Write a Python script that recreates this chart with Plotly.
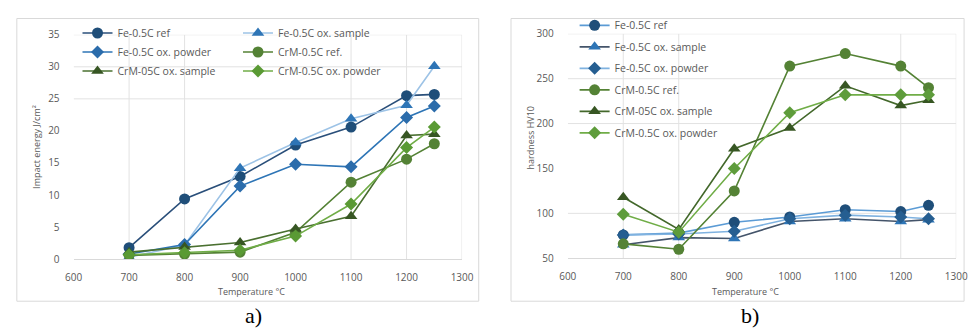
import plotly.graph_objects as go

# Temperatures (°C) shared by both panels
temperature = [700, 800, 900, 1000, 1100, 1200, 1250]

series_names = [
    "Fe-0.5C ref",
    "Fe-0.5C ox. sample",
    "Fe-0.5C ox. powder",
    "CrM-0.5C ref.",
    "CrM-05C ox. sample",
    "CrM-0.5C ox. powder",
]

# a) impact energy, J/cm²
impact_fe_ref = [1.8, 9.4, 12.9, 17.8, 20.6, 25.5, 25.7]
impact_fe_ox_sample = [0.3, 2.2, 14.2, 18.2, 21.9, 24.0, 30.1]
impact_fe_ox_powder = [0.8, 2.3, 11.4, 14.8, 14.4, 22.1, 23.9]
impact_crm_ref = [0.6, 0.8, 1.1, 4.2, 12.0, 15.6, 18.0]
impact_crm_ox_sample = [1.1, 1.9, 2.6, 4.7, 6.7, 19.3, 19.5]
impact_crm_ox_powder = [0.7, 1.0, 1.4, 3.6, 8.6, 17.4, 20.6]

# b) hardness, HV10
hard_fe_ref = [76, 78, 90, 96, 104, 102, 109]
hard_fe_ox_sample = [65, 73, 72, 91, 94, 91, 93]
hard_fe_ox_powder = [76, 77, 80, 94, 98, 96, 94]
hard_crm_ref = [66, 60, 125, 264, 278, 264, 240]
hard_crm_ox_sample = [118, 82, 172, 195, 242, 220, 226]
hard_crm_ox_powder = [99, 79, 150, 212, 232, 232, 232]

impact_values = [impact_fe_ref, impact_fe_ox_sample, impact_fe_ox_powder,
                 impact_crm_ref, impact_crm_ox_sample, impact_crm_ox_powder]
hard_values = [hard_fe_ref, hard_fe_ox_sample, hard_fe_ox_powder,
               hard_crm_ref, hard_crm_ox_sample, hard_crm_ox_powder]

x_ticks = [600, 700, 800, 900, 1000, 1100, 1200, 1300]
impact_ticks = [0, 5, 10, 15, 20, 25, 30, 35]
hard_ticks = [50, 100, 150, 200, 250, 300]

# gridlines that are drawn in each panel
impact_grid_x = [700, 800, 1100, 1200, 1300]
impact_grid_y = [25, 30, 35]
hard_grid_x = [700, 800, 1200, 1300]
hard_grid_y = [100, 200, 250, 300]

# panel a legend is laid out in two columns
legend_a_column = ["legend", "legend3", "legend", "legend3", "legend", "legend3"]

# (symbol, marker colour, line colour)
styles_a = [
    ("circle", "#1f4e79", "#2a4f7a"),
    ("triangle-up", "#2e75b6", "#9dc3e6"),
    ("diamond", "#2b6cab", "#2e75b6"),
    ("circle", "#548235", "#548235"),
    ("triangle-up", "#375623", "#4a7030"),
    ("diamond", "#5a9a34", "#70ad47"),
]
styles_b = [
    ("circle", "#1f4e79", "#5b9bd5"),
    ("triangle-up", "#2e75b6", "#44546a"),
    ("diamond", "#255e91", "#7fb2e0"),
    ("circle", "#548235", "#548235"),
    ("triangle-up", "#375623", "#43682b"),
    ("diamond", "#5e9c3b", "#70ad47"),
]

W, H = 980, 334
FONT = "Open Sans"
GREY = "#595959"


def px_x(v):
    return v / W


def px_y(v):
    return 1 - v / H


fig = go.Figure()

for name, vals, (sym, mc, lc), leg in zip(series_names, impact_values, styles_a,
                                          legend_a_column):
    fig.add_trace(go.Scatter(
        x=temperature, y=vals, name=name, mode="lines+markers",
        line=dict(color=lc, width=1.6),
        marker=dict(symbol=sym, color=mc, size=11 if sym != "diamond" else 10),
        xaxis="x", yaxis="y", legend=leg,
    ))

for i, (name, vals, (sym, mc, lc)) in enumerate(zip(series_names, hard_values, styles_b)):
    fig.add_trace(go.Scatter(
        x=temperature, y=vals, name=name, mode="lines+markers",
        line=dict(color=lc, width=1.6),
        marker=dict(symbol=sym, color=mc, size=11 if sym != "diamond" else 10),
        xaxis="x2", yaxis="y2", legend="legend2", legendgroup=f"b{i}",
    ))

shapes = []
# panel frames
for x0, x1 in [(8, 480), (513, 976)]:
    shapes.append(dict(type="rect", xref="paper", yref="paper",
                       x0=px_x(x0), x1=px_x(x1), y0=px_y(307), y1=px_y(11),
                       line=dict(color="#d9d9d9", width=1), layer="below"))

grid_line = dict(color="#e2e2e2", width=1)
for gx in impact_grid_x:
    shapes.append(dict(type="line", xref="x", yref="y", x0=gx, x1=gx, y0=0, y1=35,
                       line=grid_line, layer="below"))
for gy in impact_grid_y:
    shapes.append(dict(type="line", xref="x", yref="y", x0=600, x1=1300, y0=gy, y1=gy,
                       line=grid_line, layer="below"))
for gx in hard_grid_x:
    shapes.append(dict(type="line", xref="x2", yref="y2", x0=gx, x1=gx, y0=50, y1=300,
                       line=grid_line, layer="below"))
for gy in hard_grid_y:
    shapes.append(dict(type="line", xref="x2", yref="y2", x0=600, x1=1300, y0=gy, y1=gy,
                       line=grid_line, layer="below"))

# white legend backgrounds sitting over the gridlines but under the data
for x0, x1, y0, y1 in [(66, 410, 20, 82), (575, 745, 15, 140)]:
    shapes.append(dict(type="rect", xref="paper", yref="paper",
                       x0=px_x(x0), x1=px_x(x1), y0=px_y(y1), y1=px_y(y0),
                       fillcolor="white", line=dict(width=0), layer="below"))

tick_font = dict(family=FONT, size=10, color=GREY)

axis_common = dict(showgrid=False, zeroline=False, ticks="", tickfont=tick_font,
                   fixedrange=True)


def label(text, x, y, size=9, angle=0, family=FONT, color=GREY):
    return dict(text=text, x=px_x(x), y=px_y(y), xref="paper", yref="paper",
                xanchor="center", yanchor="middle", showarrow=False, textangle=angle,
                font=dict(family=family, size=size, color=color))


annotations = [
    label("Temperature °C", 248, 297),
    label("Temperature °C", 753, 297),
    label("Impact energy J/cm²", 28, 145, angle=-90),
    label("hardness HV10", 533, 136, angle=-90),
    label("a)", 250, 322, size=22, family="Liberation Serif", color="black"),
    label("b)", 757, 322, size=22, family="Liberation Serif", color="black"),
]

legend_font = dict(family=FONT, size=10.5, color=GREY)

fig.update_layout(
    width=W, height=H,
    margin=dict(l=0, r=0, t=0, b=0),
    paper_bgcolor="white", plot_bgcolor="white",
    font=dict(family=FONT, color=GREY),
    xaxis=dict(domain=[px_x(66), px_x(463)], range=[600, 1300], tickvals=x_ticks,
               showline=True, linecolor="#d9d9d9", linewidth=1,
               ticklabelstandoff=9, anchor="y", **axis_common),
    yaxis=dict(domain=[px_y(263), px_y(28)], range=[0, 35], tickvals=impact_ticks,
               showline=False, ticklabelstandoff=13, anchor="x", **axis_common),
    xaxis2=dict(domain=[px_x(571), px_x(968)], range=[600, 1300], tickvals=x_ticks,
                showline=True, linecolor="#d9d9d9", linewidth=1,
                ticklabelstandoff=9, anchor="y2", **axis_common),
    yaxis2=dict(domain=[px_y(262), px_y(27)], range=[50, 300], tickvals=hard_ticks,
                showline=False, ticklabelstandoff=13, anchor="x2", **axis_common),
    legend=dict(orientation="v", x=px_x(70), y=px_y(11), xanchor="left", yanchor="top",
                bgcolor="rgba(0,0,0,0)", font=legend_font,
                itemclick=False, itemdoubleclick=False),
    legend3=dict(orientation="v", x=px_x(234), y=px_y(11), xanchor="left", yanchor="top",
                 bgcolor="rgba(0,0,0,0)", font=legend_font,
                 itemclick=False, itemdoubleclick=False),
    legend2=dict(orientation="v", x=px_x(578), y=px_y(3), xanchor="left", yanchor="top",
                 bgcolor="rgba(0,0,0,0)", tracegroupgap=2.5, font=legend_font,
                 itemclick=False, itemdoubleclick=False),
    shapes=shapes,
    annotations=annotations,
    showlegend=True,
)

fig.write_html("out.html", config=dict(displayModeBar=False))
